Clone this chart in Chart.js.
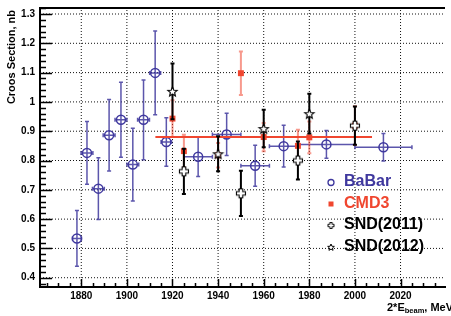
<!DOCTYPE html>
<html>
<head>
<meta charset="utf-8">
<script src="https://cdn.jsdelivr.net/npm/chart.js@4.4.0/dist/chart.umd.min.js"></script>
<style>
html, body { margin: 0; padding: 0; background: #fff; }
</style>
</head>
<body>
<canvas id="chart" width="451" height="316"></canvas>
<script>
// BaBar
const babarE = [1878.1, 1882.5, 1887.5, 1892.2, 1897.4, 1902.6, 1907.3, 1912.4, 1917.3, 1931.25, 1943.75, 1956.25, 1968.75, 1987.5, 2012.5];
const babarSigma = [0.534, 0.826, 0.704, 0.886, 0.939, 0.786, 0.939, 1.099, 0.863, 0.813, 0.889, 0.782, 0.849, 0.855, 0.845];
const babarErr = [0.095, 0.107, 0.105, 0.122, 0.128, 0.124, 0.136, 0.143, 0.083, 0.068, 0.072, 0.070, 0.071, 0.047, 0.047];
const babarErrE = [2, 2.6, 2.6, 2.6, 2.6, 2.6, 2.6, 2.4, 2.3, 6.25, 6.25, 6.25, 6.25, 12.5, 12.5];

// CMD3
const cmdE = [1920, 1925, 1940, 1950, 1960, 1975, 1980, 2000];
const cmdSigma = [0.943, 0.832, 0.818, 1.098, 0.880, 0.850, 0.879, 0.919];
const cmdErr = [0.063, 0.056, 0.042, 0.074, 0.048, 0.055, 0.054, 0.066];

// CMD3 average
const fitE = [1912.5, 2007.5];
const fitSigma = [0.880, 0.880];

// SND(2011)
const snd11E = [1925, 1950, 1975, 2000];
const snd11Sigma = [0.763, 0.688, 0.800, 0.919];
const snd11Err = [0.077, 0.077, 0.065, 0.065];

// SND(2012)
const snd12E = [1920, 1940, 1960, 1980];
const snd12Sigma = [1.036, 0.823, 0.909, 0.960];
const snd12Err = [0.095, 0.060, 0.064, 0.068];

// axes
const xMin = 1861.9, xMax = 2039.5;
const yMin = 0.3683, yMax = 1.3205;
const xTicks = [1880, 1900, 1920, 1940, 1960, 1980, 2000, 2020];
const yTicks = [0.4, 0.5, 0.6, 0.7, 0.8, 0.9, 1.0, 1.1, 1.2, 1.3];

const FONT = '"Liberation Sans", Arial, Helvetica, sans-serif';
const BLUE = '#3f389e';
const RED = '#f0462f';

Chart.defaults.font.family = FONT;
Chart.defaults.font.weight = 'bold';
Chart.defaults.font.size = 10;
Chart.defaults.color = '#000';

function toPoints(xs, ys) {
    return xs.map((x, i) => ({ x: x, y: ys[i] }));
}

// ROOT style open markers (open cross, open star)
function openCross(size, lw) {
    const c = document.createElement('canvas');
    c.width = size + 3; c.height = size + 3;
    const g = c.getContext('2d');
    const m = c.width / 2, a = size / 2, b = size / 5;
    const pts = [[-b,-a],[b,-a],[b,-b],[a,-b],[a,b],[b,b],[b,a],[-b,a],[-b,b],[-a,b],[-a,-b],[-b,-b]];
    g.beginPath();
    pts.forEach((p, i) => i ? g.lineTo(m + p[0], m + p[1]) : g.moveTo(m + p[0], m + p[1]));
    g.closePath();
    g.fillStyle = '#fff'; g.fill();
    g.lineWidth = lw; g.strokeStyle = '#000'; g.stroke();
    return c;
}

function openStar(size, lw) {
    const c = document.createElement('canvas');
    c.width = size + 3; c.height = size + 3;
    const g = c.getContext('2d');
    const m = c.width / 2, R = size / 2, r = R * 0.45;
    g.beginPath();
    for (let k = 0; k < 10; k++) {
        const ang = -Math.PI / 2 + k * Math.PI / 5;
        const rr = k % 2 ? r : R;
        const px = m + rr * Math.cos(ang), py = m + 0.5 + rr * Math.sin(ang);
        k ? g.lineTo(px, py) : g.moveTo(px, py);
    }
    g.closePath();
    g.fillStyle = '#fff'; g.fill();
    g.lineWidth = lw; g.strokeStyle = '#000'; g.stroke();
    return c;
}

const crossImg = openCross(9, 1.1);
const starImg = openStar(10, 1.1);

// dotted grid lines as plain line datasets at the major ticks
function gridLine(points) {
    return {
        type: 'line',
        label: '',
        data: points,
        showLine: true,
        borderColor: '#111',
        borderWidth: 1,
        borderDash: [1, 2],
        pointRadius: 0,
        fill: false,
        tension: 0,
        order: 10
    };
}
const gridSets = xTicks.map(v => gridLine([{ x: v, y: yMin }, { x: v, y: yMax }]))
    .concat(yTicks.map(v => gridLine([{ x: xMin, y: v }, { x: xMax, y: v }])));

// error bars, drawn just before each dataset's markers
const errorBars = {
    id: 'errorBars',
    beforeDatasetDraw(chart, args) {
        const ds = chart.data.datasets[args.index];
        if (!ds.errY) return;
        const xs = chart.scales.x, ys = chart.scales.y;
        const ctx = chart.ctx;
        const cap = 2;
        ctx.save();
        ctx.strokeStyle = ds.barColor;
        ctx.lineWidth = ds.barWidth;
        ds.data.forEach((p, i) => {
            const px = xs.getPixelForValue(p.x);
            const py = ys.getPixelForValue(p.y);
            const top = ys.getPixelForValue(p.y + ds.errY[i]);
            const bot = ys.getPixelForValue(p.y - ds.errY[i]);
            ctx.beginPath();
            ctx.moveTo(px, top); ctx.lineTo(px, bot);
            ctx.moveTo(px - cap, top); ctx.lineTo(px + cap, top);
            ctx.moveTo(px - cap, bot); ctx.lineTo(px + cap, bot);
            if (ds.errX) {
                const l = xs.getPixelForValue(p.x - ds.errX[i]);
                const r = xs.getPixelForValue(p.x + ds.errX[i]);
                ctx.moveTo(l, py); ctx.lineTo(r, py);
                ctx.moveTo(l, py - cap); ctx.lineTo(l, py + cap);
                ctx.moveTo(r, py - cap); ctx.lineTo(r, py + cap);
            }
            ctx.stroke();
        });
        ctx.restore();
    }
};

// frame, inner tick marks, axis titles and legend in ROOT style
const rootFrame = {
    id: 'rootFrame',
    afterDraw(chart) {
        const ctx = chart.ctx;
        const area = chart.chartArea;
        const xs = chart.scales.x, ys = chart.scales.y;
        ctx.save();
        ctx.strokeStyle = '#000';
        ctx.lineWidth = 2;
        ctx.beginPath();
        ctx.moveTo(area.left, area.top); ctx.lineTo(area.right, area.top);
        ctx.stroke();

        ctx.lineWidth = 1.5;
        ctx.beginPath();
        for (let v = 1865; v <= 2035; v += 5) {
            const px = Math.round(xs.getPixelForValue(v)) + 0.5;
            const len = v % 20 === 0 ? 8 : 4;
            ctx.moveTo(px, area.bottom); ctx.lineTo(px, area.bottom - len);
        }
        for (let k = 19; k <= 66; k++) {
            const py = Math.round(ys.getPixelForValue(k * 0.02)) + 0.5;
            const len = k % 5 === 0 ? 12 : 6;
            ctx.moveTo(area.left, py); ctx.lineTo(area.left + len, py);
        }
        ctx.stroke();

        // axis titles
        ctx.fillStyle = '#000';
        ctx.font = 'bold 11px ' + FONT;
        ctx.save();
        ctx.translate(12, 10);
        ctx.rotate(-Math.PI / 2);
        ctx.textAlign = 'right';
        ctx.textBaseline = 'middle';
        ctx.fillText('Croos Section, nb', 0, 0);
        ctx.restore();

        ctx.textBaseline = 'alphabetic';
        ctx.textAlign = 'left';
        let tx = 387;
        ctx.font = 'bold 11px ' + FONT;
        ctx.fillText('2*E', tx, 310.5);
        tx += ctx.measureText('2*E').width;
        ctx.font = 'bold 7.5px ' + FONT;
        ctx.fillText('beam', tx, 313);
        tx += ctx.measureText('beam').width;
        ctx.font = 'bold 11px ' + FONT;
        ctx.fillText(', MeV', tx, 310.5);

        // legend
        const items = [
            { label: 'BaBar', color: BLUE, mark: 'circle', y: 186 },
            { label: 'CMD3', color: RED, mark: 'rect', y: 207.5 },
            { label: 'SND(2011)', color: '#000', mark: 'cross', y: 229 },
            { label: 'SND(2012)', color: '#000', mark: 'star', y: 250.5 }
        ];
        items.forEach(it => {
            const mx = 331, my = it.y - 3.5;
            if (it.mark === 'circle') {
                ctx.beginPath();
                ctx.arc(mx, my, 3, 0, Math.PI * 2);
                ctx.lineWidth = 1.3; ctx.strokeStyle = it.color; ctx.stroke();
            } else if (it.mark === 'rect') {
                ctx.fillStyle = it.color;
                ctx.fillRect(mx - 2.5, my - 2.5, 5, 5);
            } else if (it.mark === 'cross') {
                const im = openCross(6, 1);
                ctx.drawImage(im, mx - im.width / 2, my - im.height / 2);
            } else {
                const im = openStar(7, 1);
                ctx.drawImage(im, mx - im.width / 2, my - im.height / 2);
            }
            ctx.fillStyle = it.color;
            ctx.font = 'bold 16px ' + FONT;
            ctx.fillText(it.label, 344, it.y);
        });
        ctx.restore();
    }
};

new Chart(document.getElementById('chart'), {
    type: 'scatter',
    data: {
        datasets: [
            {
                label: 'SND(2012)',
                data: toPoints(snd12E, snd12Sigma),
                errY: snd12Err, barColor: '#000', barWidth: 2,
                pointStyle: starImg,
                order: 0
            },
            {
                label: 'SND(2011)',
                data: toPoints(snd11E, snd11Sigma),
                errY: snd11Err, barColor: '#000', barWidth: 2,
                pointStyle: crossImg,
                order: 1
            },
            {
                label: 'CMD3',
                data: toPoints(cmdE, cmdSigma),
                errY: cmdErr, barColor: 'rgba(240,70,47,0.55)', barWidth: 2,
                pointStyle: 'rect',
                pointRadius: 4.2,
                backgroundColor: RED,
                borderColor: RED,
                borderWidth: 0,
                order: 2
            },
            {
                type: 'line',
                label: 'CMD3 average',
                data: toPoints(fitE, fitSigma),
                showLine: true,
                borderColor: RED,
                borderWidth: 2,
                pointRadius: 0,
                fill: false,
                order: 3
            },
            {
                label: 'BaBar',
                data: toPoints(babarE, babarSigma),
                errY: babarErr, errX: babarErrE, barColor: 'rgba(63,56,158,0.85)', barWidth: 1.5,
                pointStyle: 'circle',
                pointRadius: 4.5,
                backgroundColor: 'rgba(0,0,0,0)',
                borderColor: BLUE,
                borderWidth: 1.5,
                order: 4
            }
        ].concat(gridSets)
    },
    options: {
        responsive: false,
        animation: false,
        events: [],
        layout: { padding: { top: 8, right: 0, left: 0, bottom: 0 } },
        plugins: {
            legend: { display: false },
            tooltip: { enabled: false }
        },
        scales: {
            x: {
                type: 'linear',
                min: xMin,
                max: xMax,
                afterBuildTicks: s => { s.ticks = xTicks.map(v => ({ value: v })); },
                afterFit: s => { s.height = 29; s.paddingLeft = 0; s.paddingRight = 0; },
                grid: { display: false, drawTicks: false },
                border: { display: true, color: '#000', width: 2 },
                ticks: {
                    padding: 3,
                    maxRotation: 0,
                    autoSkip: false,
                    color: '#000',
                    callback: v => String(v)
                }
            },
            y: {
                type: 'linear',
                min: yMin,
                max: yMax,
                afterBuildTicks: s => { s.ticks = yTicks.map(v => ({ value: v })); },
                afterFit: s => { s.width = 40; s.paddingTop = 0; s.paddingBottom = 0; },
                grid: { display: false, drawTicks: false },
                border: { display: true, color: '#000', width: 2 },
                ticks: {
                    padding: 5,
                    autoSkip: false,
                    color: '#000',
                    callback: v => String(Math.round(v * 10) / 10)
                }
            }
        }
    },
    plugins: [errorBars, rootFrame]
});
</script>
</body>
</html>
